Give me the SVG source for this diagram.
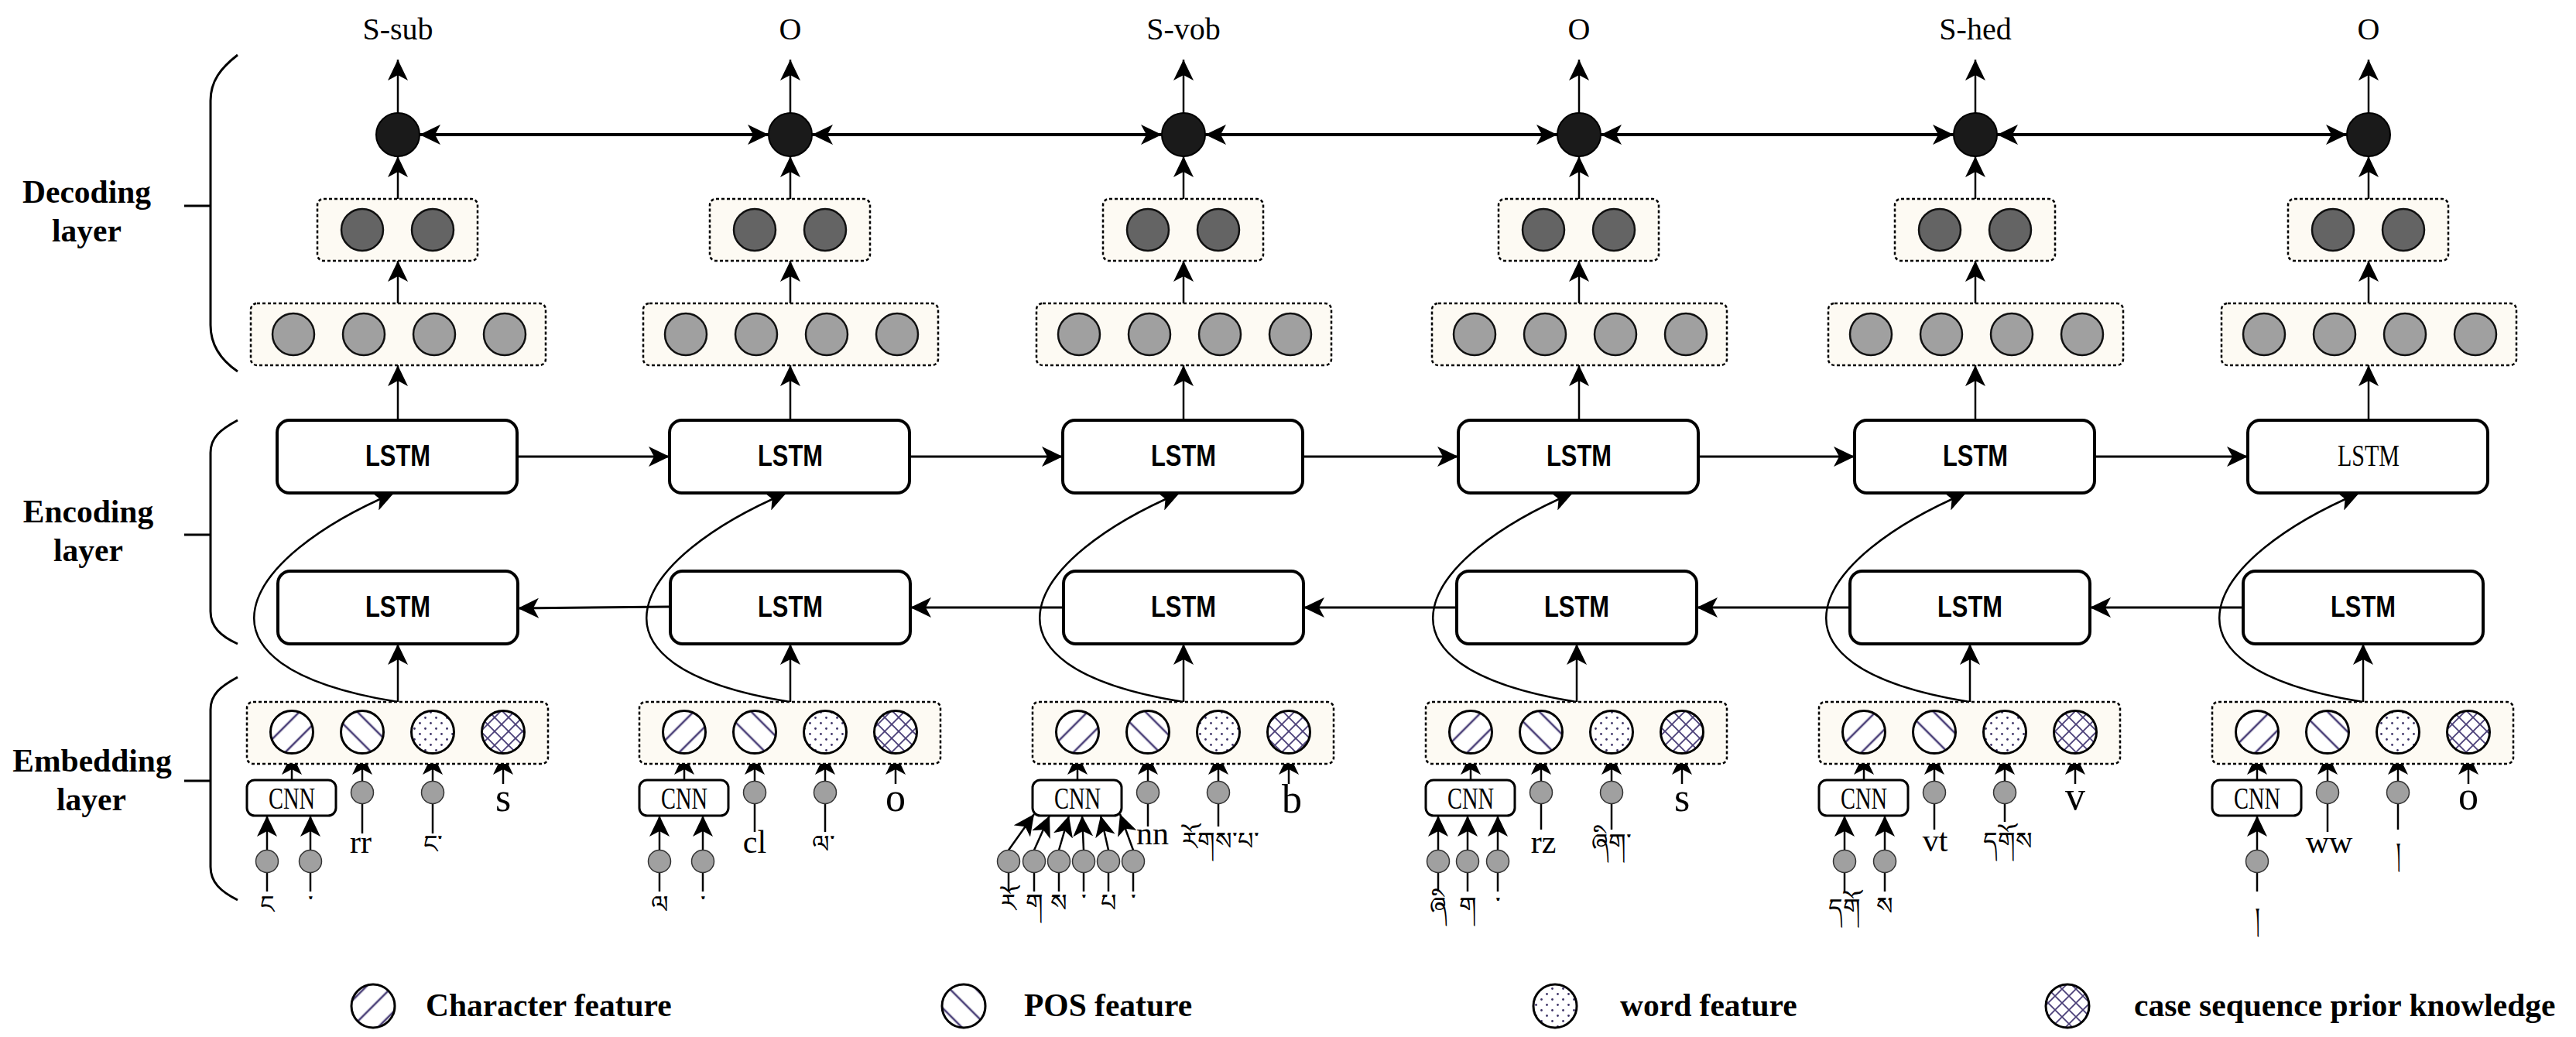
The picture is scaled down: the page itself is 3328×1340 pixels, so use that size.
<svg xmlns="http://www.w3.org/2000/svg" width="3328" height="1340" viewBox="0 0 3328 1340">
<style>
.lbl{font-family:"Liberation Serif","Times New Roman",serif;font-size:40px;text-anchor:middle}
.layer{font-family:"Liberation Serif","Times New Roman",serif;font-weight:bold;font-size:41.5px;text-anchor:middle}
.leg{font-family:"Liberation Serif","Times New Roman",serif;font-weight:bold;font-size:41.5px}
.lstm{font-family:"Liberation Sans Narrow","Liberation Sans",Arial,sans-serif;font-weight:bold;font-size:38px;text-anchor:middle}
.lstm2{font-family:"Liberation Serif","Times New Roman",serif;font-size:40px;text-anchor:middle}
.cnn{font-family:"Liberation Serif","Times New Roman",serif;font-size:40px;text-anchor:middle}
.pos{font-family:"Liberation Serif","Times New Roman",serif;font-size:42px;text-anchor:middle}
.case{font-family:"Liberation Serif","Times New Roman",serif;font-size:52px;text-anchor:middle}
.tib{font-family:"DejaVu Sans","Noto Sans",sans-serif;font-size:32px;text-anchor:middle}
.dbox{fill:#fdfaf3;stroke:#000;stroke-width:2.5;stroke-dasharray:4 3}
.lbox{fill:#fff;stroke:#000;stroke-width:4}
.cbox{fill:#fff;stroke:#000;stroke-width:3}
.blk{fill:#1a1a1a;stroke:#000;stroke-width:2}
.dk{fill:#646464;stroke:#111;stroke-width:2.5}
.gr{fill:#a0a0a0;stroke:#111;stroke-width:2.5}
.sm{fill:#a0a0a0;stroke:#333;stroke-width:1.5}
.fc{stroke:#000;stroke-width:3}
.ar{fill:none;stroke:#000;stroke-width:2.5;marker-end:url(#ah)}
.ar3{fill:none;stroke:#000;stroke-width:3;marker-end:url(#ah)}
.ar4{fill:none;stroke:#000;stroke-width:4;marker-start:url(#ah);marker-end:url(#ah)}
.ln{fill:none;stroke:#000;stroke-width:2.5}
.brace{fill:none;stroke:#000;stroke-width:3}
</style>
<defs>
<marker id="ah" markerUnits="userSpaceOnUse" markerWidth="27" markerHeight="26" viewBox="0 0 27 26" refX="27" refY="13" orient="auto-start-reverse"><path d="M0,0 L27,13 L0,26 L7,13 Z" fill="#000"/></marker>
<pattern id="pChar" width="24" height="24" patternUnits="userSpaceOnUse" patternTransform="rotate(45)"><rect width="24" height="24" fill="#fff"/><line x1="12" y1="0" x2="12" y2="24" stroke="#4a3f78" stroke-width="2.6"/></pattern>
<pattern id="pPos" width="24" height="24" patternUnits="userSpaceOnUse" patternTransform="rotate(-45)"><rect width="24" height="24" fill="#fff"/><line x1="12" y1="0" x2="12" y2="24" stroke="#4a3f78" stroke-width="2.6"/></pattern>
<pattern id="pWord" width="14" height="14" patternUnits="userSpaceOnUse"><rect width="14" height="14" fill="#fff"/><circle cx="3.5" cy="3.5" r="1.4" fill="#3d3366"/><circle cx="10.5" cy="10.5" r="1.4" fill="#3d3366"/></pattern>
<pattern id="pCase" width="18" height="18" patternUnits="userSpaceOnUse"><rect width="18" height="18" fill="#fff"/><path d="M0,0 L18,18 M18,0 L0,18" stroke="#4a3f78" stroke-width="1.8"/></pattern>
</defs>

<g id="braces">
<path class="brace" d="M307,71 C285,88 272,105 272,130 L272,420 C272,445 285,465 307,480"/>
<line class="brace" x1="238" y1="266" x2="272" y2="266"/>
<path class="brace" d="M307,543 C285,555 272,565 272,585 L272,790 C272,810 285,822 307,832"/>
<line class="brace" x1="238" y1="691" x2="272" y2="691"/>
<path class="brace" d="M307,875 C285,887 272,897 272,917 L272,1120 C272,1140 285,1152 307,1163"/>
<line class="brace" x1="238" y1="1009" x2="272" y2="1009"/>
</g>
<g id="layer-labels">
<text class="layer" x="112" y="262">Decoding</text><text class="layer" x="112" y="312">layer</text>
<text class="layer" x="114" y="675">Encoding</text><text class="layer" x="114" y="725">layer</text>
<text class="layer" x="119" y="997">Embedding</text><text class="layer" x="118" y="1047">layer</text>
</g>

<g id="connectors">
<!-- output arrows -->
<line class="ar" x1="514" y1="147" x2="514" y2="77"/><line class="ar" x1="1021" y1="147" x2="1021" y2="77"/><line class="ar" x1="1529" y1="147" x2="1529" y2="77"/><line class="ar" x1="2040" y1="147" x2="2040" y2="77"/><line class="ar" x1="2552" y1="147" x2="2552" y2="77"/><line class="ar" x1="3060" y1="147" x2="3060" y2="77"/>
<!-- CRF links -->
<line class="ar4" x1="542" y1="174" x2="993" y2="174"/><line class="ar4" x1="1049" y1="174" x2="1501" y2="174"/><line class="ar4" x1="1557" y1="174" x2="2012" y2="174"/><line class="ar4" x1="2068" y1="174" x2="2524" y2="174"/><line class="ar4" x1="2580" y1="174" x2="3032" y2="174"/>
<!-- 2-box to black -->
<line class="ar" x1="514" y1="257" x2="514" y2="202"/><line class="ar" x1="1021" y1="257" x2="1021" y2="202"/><line class="ar" x1="1529" y1="257" x2="1529" y2="202"/><line class="ar" x1="2040" y1="257" x2="2040" y2="202"/><line class="ar" x1="2552" y1="257" x2="2552" y2="202"/><line class="ar" x1="3060" y1="257" x2="3060" y2="202"/>
<!-- 4-box to 2-box -->
<line class="ar" x1="514" y1="392" x2="514" y2="337"/><line class="ar" x1="1021" y1="392" x2="1021" y2="337"/><line class="ar" x1="1529" y1="392" x2="1529" y2="337"/><line class="ar" x1="2040" y1="392" x2="2040" y2="337"/><line class="ar" x1="2552" y1="392" x2="2552" y2="337"/><line class="ar" x1="3060" y1="392" x2="3060" y2="337"/>
<!-- LSTM to 4-box -->
<line class="ar" x1="514" y1="543" x2="514" y2="472"/><line class="ar" x1="1021" y1="543" x2="1021" y2="472"/><line class="ar" x1="1529" y1="543" x2="1529" y2="472"/><line class="ar" x1="2040" y1="543" x2="2040" y2="472"/><line class="ar" x1="2552" y1="543" x2="2552" y2="472"/><line class="ar" x1="3060" y1="543" x2="3060" y2="472"/>
<!-- forward LSTM -->
<line class="ar3" x1="668" y1="590" x2="865" y2="590"/><line class="ar3" x1="1175" y1="590" x2="1373" y2="590"/><line class="ar3" x1="1683" y1="590" x2="1884" y2="590"/><line class="ar3" x1="2194" y1="590" x2="2396" y2="590"/><line class="ar3" x1="2706" y1="590" x2="2904" y2="590"/>
<!-- backward LSTM -->
<line class="ar3" x1="866" y1="784" x2="669" y2="786"/><line class="ar3" x1="1374" y1="785" x2="1176" y2="785"/><line class="ar3" x1="1882" y1="785" x2="1684" y2="785"/><line class="ar3" x1="2390" y1="785" x2="2192" y2="785"/><line class="ar3" x1="2898" y1="785" x2="2700" y2="785"/>
<!-- skip curves -->
<path class="ar" d="M514,907 C224,860 314,720 509,637"/>
<path class="ar" d="M1021,907 C731,860 821,720 1016,637"/>
<path class="ar" d="M1529,907 C1239,860 1329,720 1524,637"/>
<path class="ar" d="M2037,907 C1747,860 1837,720 2032,637"/>
<path class="ar" d="M2545,907 C2255,860 2345,720 2540,637"/>
<path class="ar" d="M3053,907 C2763,860 2853,720 3048,637"/>
<!-- embedding to backward LSTM -->
<line class="ar" x1="514" y1="907" x2="514" y2="832"/><line class="ar" x1="1021" y1="907" x2="1021" y2="832"/><line class="ar" x1="1529" y1="907" x2="1529" y2="832"/><line class="ar" x1="2037" y1="907" x2="2037" y2="832"/><line class="ar" x1="2545" y1="907" x2="2545" y2="832"/><line class="ar" x1="3053" y1="907" x2="3053" y2="832"/>
<!-- CNN to char feature -->
<line class="ar" x1="377" y1="1008" x2="377" y2="974"/><line class="ar" x1="884" y1="1008" x2="884" y2="974"/><line class="ar" x1="1392" y1="1008" x2="1392" y2="974"/><line class="ar" x1="1900" y1="1008" x2="1900" y2="974"/><line class="ar" x1="2408" y1="1008" x2="2408" y2="974"/><line class="ar" x1="2916" y1="1008" x2="2916" y2="974"/>
<!-- POS inputs -->
<line class="ar" x1="468" y1="1009.5" x2="468" y2="974"/><line class="ln" x1="468" y1="1038.5" x2="468" y2="1077"/>
<line class="ar" x1="975" y1="1009.5" x2="975" y2="974"/><line class="ln" x1="975" y1="1038.5" x2="975" y2="1075"/>
<line class="ar" x1="1483" y1="1009.5" x2="1483" y2="974"/><line class="ln" x1="1483" y1="1038.5" x2="1483" y2="1068"/>
<line class="ar" x1="1991" y1="1009.5" x2="1991" y2="974"/><line class="ln" x1="1991" y1="1038.5" x2="1991" y2="1072"/>
<line class="ar" x1="2499" y1="1009.5" x2="2499" y2="974"/><line class="ln" x1="2499" y1="1038.5" x2="2499" y2="1072"/>
<line class="ar" x1="3007" y1="1009.5" x2="3007" y2="974"/><line class="ln" x1="3007" y1="1038.5" x2="3007" y2="1075"/>
<!-- word inputs -->
<line class="ar" x1="559" y1="1009.5" x2="559" y2="974"/><line class="ln" x1="559" y1="1038.5" x2="559" y2="1077"/>
<line class="ar" x1="1066" y1="1009.5" x2="1066" y2="974"/><line class="ln" x1="1066" y1="1038.5" x2="1066" y2="1075"/>
<line class="ar" x1="1574" y1="1009.5" x2="1574" y2="974"/><line class="ln" x1="1574" y1="1038.5" x2="1574" y2="1068"/>
<line class="ar" x1="2082" y1="1009.5" x2="2082" y2="974"/><line class="ln" x1="2082" y1="1038.5" x2="2082" y2="1072"/>
<line class="ar" x1="2590" y1="1009.5" x2="2590" y2="974"/><line class="ln" x1="2590" y1="1038.5" x2="2590" y2="1062"/>
<line class="ar" x1="3098" y1="1009.5" x2="3098" y2="974"/><line class="ln" x1="3098" y1="1038.5" x2="3098" y2="1072"/>
<!-- case inputs -->
<line class="ar" x1="650" y1="1013" x2="650" y2="974"/><line class="ar" x1="1157" y1="1013" x2="1157" y2="974"/><line class="ar" x1="1665" y1="1013" x2="1665" y2="974"/><line class="ar" x1="2173" y1="1013" x2="2173" y2="974"/><line class="ar" x1="2681" y1="1013" x2="2681" y2="974"/><line class="ar" x1="3189" y1="1013" x2="3189" y2="974"/>
<!-- char inputs to CNN -->
<line class="ar" x1="345" y1="1098.5" x2="345" y2="1054"/><line class="ar" x1="401" y1="1098.5" x2="401" y2="1054"/>
<line class="ar" x1="852" y1="1098.5" x2="852" y2="1054"/><line class="ar" x1="908" y1="1098.5" x2="908" y2="1054"/>
<line class="ar" x1="1303" y1="1098.5" x2="1336" y2="1052"/><line class="ar" x1="1336" y1="1098.5" x2="1356" y2="1054"/><line class="ar" x1="1368" y1="1098.5" x2="1381" y2="1054"/><line class="ar" x1="1400" y1="1098.5" x2="1398" y2="1054"/><line class="ar" x1="1432" y1="1098.5" x2="1422" y2="1054"/><line class="ar" x1="1464" y1="1098.5" x2="1447" y2="1052"/>
<line class="ar" x1="1858" y1="1098.5" x2="1858" y2="1054"/><line class="ar" x1="1896" y1="1098.5" x2="1896" y2="1054"/><line class="ar" x1="1935" y1="1098.5" x2="1935" y2="1054"/>
<line class="ar" x1="2383" y1="1098.5" x2="2383" y2="1054"/><line class="ar" x1="2435" y1="1098.5" x2="2435" y2="1054"/>
<line class="ar" x1="2916" y1="1098.5" x2="2916" y2="1054"/>
<!-- char input stems -->
<line class="ln" x1="345" y1="1127.5" x2="345" y2="1152"/><line class="ln" x1="401" y1="1127.5" x2="401" y2="1152"/>
<line class="ln" x1="852" y1="1127.5" x2="852" y2="1152"/><line class="ln" x1="908" y1="1127.5" x2="908" y2="1152"/>
<line class="ln" x1="1303" y1="1127.5" x2="1303" y2="1152"/><line class="ln" x1="1336" y1="1127.5" x2="1336" y2="1152"/><line class="ln" x1="1368" y1="1127.5" x2="1368" y2="1152"/><line class="ln" x1="1400" y1="1127.5" x2="1400" y2="1152"/><line class="ln" x1="1432" y1="1127.5" x2="1432" y2="1152"/><line class="ln" x1="1464" y1="1127.5" x2="1464" y2="1152"/>
<line class="ln" x1="1858" y1="1127.5" x2="1858" y2="1152"/><line class="ln" x1="1896" y1="1127.5" x2="1896" y2="1152"/><line class="ln" x1="1935" y1="1127.5" x2="1935" y2="1152"/>
<line class="ln" x1="2383" y1="1127.5" x2="2383" y2="1152"/><line class="ln" x1="2435" y1="1127.5" x2="2435" y2="1152"/>
<line class="ln" x1="2916" y1="1127.5" x2="2916" y2="1152"/>
</g>

<!-- Column 1 -->
<g id="out-1"><text class="lbl" x="514" y="51">S-sub</text><circle class="blk" cx="514" cy="174" r="28"/></g>
<g id="dec2-1"><rect class="dbox" x="410" y="257" width="207" height="80" rx="8"/><circle class="dk" cx="468" cy="297" r="27"/><circle class="dk" cx="559" cy="297" r="27"/></g>
<g id="dec4-1"><rect class="dbox" x="324" y="392" width="381" height="80" rx="8"/><circle class="gr" cx="379" cy="432" r="27"/><circle class="gr" cx="470" cy="432" r="27"/><circle class="gr" cx="561" cy="432" r="27"/><circle class="gr" cx="652" cy="432" r="27"/></g>
<g id="lstmf-1"><rect class="lbox" x="358" y="543" width="310" height="94" rx="16"/><text class="lstm" x="514" y="602" textLength="84" lengthAdjust="spacingAndGlyphs">LSTM</text></g>
<g id="lstmb-1"><rect class="lbox" x="359" y="738" width="310" height="94" rx="16"/><text class="lstm" x="514" y="797" textLength="84" lengthAdjust="spacingAndGlyphs">LSTM</text></g>
<g id="emb-1"><rect class="dbox" x="319" y="907" width="389" height="80" rx="8"/><circle class="fc" fill="url(#pChar)" cx="377" cy="946" r="27.5"/><circle class="fc" fill="url(#pPos)" cx="468" cy="946" r="27.5"/><circle class="fc" fill="url(#pWord)" cx="559" cy="946" r="27.5"/><circle class="fc" fill="url(#pCase)" cx="650" cy="946" r="27.5"/></g>
<g id="cnn-1"><rect class="cbox" x="319" y="1008" width="115" height="46" rx="10"/><text class="cnn" x="377" y="1045" textLength="60" lengthAdjust="spacingAndGlyphs">CNN</text></g>
<g id="in-1"><circle class="sm" cx="468" cy="1024" r="14.5"/><text class="pos" x="466" y="1102">rr</text><circle class="sm" cx="559" cy="1024" r="14.5"/><text class="tib" x="559" y="1102">ང་</text><text class="case" x="650" y="1048">s</text>
<circle class="sm" cx="345" cy="1113" r="14.5"/><circle class="sm" cx="401" cy="1113" r="14.5"/><text class="tib" x="345" y="1180">ང</text><text class="tib" x="401" y="1180">་</text></g>

<!-- Column 2 -->
<g id="out-2"><text class="lbl" x="1021" y="51">O</text><circle class="blk" cx="1021" cy="174" r="28"/></g>
<g id="dec2-2"><rect class="dbox" x="917" y="257" width="207" height="80" rx="8"/><circle class="dk" cx="975" cy="297" r="27"/><circle class="dk" cx="1066" cy="297" r="27"/></g>
<g id="dec4-2"><rect class="dbox" x="831" y="392" width="381" height="80" rx="8"/><circle class="gr" cx="886" cy="432" r="27"/><circle class="gr" cx="977" cy="432" r="27"/><circle class="gr" cx="1068" cy="432" r="27"/><circle class="gr" cx="1159" cy="432" r="27"/></g>
<g id="lstmf-2"><rect class="lbox" x="865" y="543" width="310" height="94" rx="16"/><text class="lstm" x="1021" y="602" textLength="84" lengthAdjust="spacingAndGlyphs">LSTM</text></g>
<g id="lstmb-2"><rect class="lbox" x="866" y="738" width="310" height="94" rx="16"/><text class="lstm" x="1021" y="797" textLength="84" lengthAdjust="spacingAndGlyphs">LSTM</text></g>
<g id="emb-2"><rect class="dbox" x="826" y="907" width="389" height="80" rx="8"/><circle class="fc" fill="url(#pChar)" cx="884" cy="946" r="27.5"/><circle class="fc" fill="url(#pPos)" cx="975" cy="946" r="27.5"/><circle class="fc" fill="url(#pWord)" cx="1066" cy="946" r="27.5"/><circle class="fc" fill="url(#pCase)" cx="1157" cy="946" r="27.5"/></g>
<g id="cnn-2"><rect class="cbox" x="826" y="1008" width="115" height="46" rx="10"/><text class="cnn" x="884" y="1045" textLength="60" lengthAdjust="spacingAndGlyphs">CNN</text></g>
<g id="in-2"><circle class="sm" cx="975" cy="1024" r="14.5"/><text class="pos" x="975" y="1102">cl</text><circle class="sm" cx="1066" cy="1024" r="14.5"/><text class="tib" x="1064" y="1102">ལ་</text><text class="case" x="1157" y="1048">o</text>
<circle class="sm" cx="852" cy="1113" r="14.5"/><circle class="sm" cx="908" cy="1113" r="14.5"/><text class="tib" x="852" y="1180">ལ</text><text class="tib" x="908" y="1180">་</text></g>

<!-- Column 3 -->
<g id="out-3"><text class="lbl" x="1529" y="51">S-vob</text><circle class="blk" cx="1529" cy="174" r="28"/></g>
<g id="dec2-3"><rect class="dbox" x="1425" y="257" width="207" height="80" rx="8"/><circle class="dk" cx="1483" cy="297" r="27"/><circle class="dk" cx="1574" cy="297" r="27"/></g>
<g id="dec4-3"><rect class="dbox" x="1339" y="392" width="381" height="80" rx="8"/><circle class="gr" cx="1394" cy="432" r="27"/><circle class="gr" cx="1485" cy="432" r="27"/><circle class="gr" cx="1576" cy="432" r="27"/><circle class="gr" cx="1667" cy="432" r="27"/></g>
<g id="lstmf-3"><rect class="lbox" x="1373" y="543" width="310" height="94" rx="16"/><text class="lstm" x="1529" y="602" textLength="84" lengthAdjust="spacingAndGlyphs">LSTM</text></g>
<g id="lstmb-3"><rect class="lbox" x="1374" y="738" width="310" height="94" rx="16"/><text class="lstm" x="1529" y="797" textLength="84" lengthAdjust="spacingAndGlyphs">LSTM</text></g>
<g id="emb-3"><rect class="dbox" x="1334" y="907" width="389" height="80" rx="8"/><circle class="fc" fill="url(#pChar)" cx="1392" cy="946" r="27.5"/><circle class="fc" fill="url(#pPos)" cx="1483" cy="946" r="27.5"/><circle class="fc" fill="url(#pWord)" cx="1574" cy="946" r="27.5"/><circle class="fc" fill="url(#pCase)" cx="1665" cy="946" r="27.5"/></g>
<g id="cnn-3"><rect class="cbox" x="1334" y="1008" width="115" height="46" rx="10"/><text class="cnn" x="1392" y="1045" textLength="60" lengthAdjust="spacingAndGlyphs">CNN</text></g>
<g id="in-3"><circle class="sm" cx="1483" cy="1024" r="14.5"/><text class="pos" x="1489" y="1091">nn</text><circle class="sm" cx="1574" cy="1024" r="14.5"/><text class="tib" x="1577" y="1098">རོགས་པ་</text><text class="case" x="1669" y="1050">b</text>
<circle class="sm" cx="1303" cy="1113" r="14.5"/><circle class="sm" cx="1336" cy="1113" r="14.5"/><circle class="sm" cx="1368" cy="1113" r="14.5"/><circle class="sm" cx="1400" cy="1113" r="14.5"/><circle class="sm" cx="1432" cy="1113" r="14.5"/><circle class="sm" cx="1464" cy="1113" r="14.5"/>
<text class="tib" x="1303" y="1178">རོ</text><text class="tib" x="1336" y="1178">ག</text><text class="tib" x="1368" y="1178">ས</text><text class="tib" x="1400" y="1178">་</text><text class="tib" x="1432" y="1178">པ</text><text class="tib" x="1464" y="1178">་</text></g>

<!-- Column 4 -->
<g id="out-4"><text class="lbl" x="2040" y="51">O</text><circle class="blk" cx="2040" cy="174" r="28"/></g>
<g id="dec2-4"><rect class="dbox" x="1936" y="257" width="207" height="80" rx="8"/><circle class="dk" cx="1994" cy="297" r="27"/><circle class="dk" cx="2085" cy="297" r="27"/></g>
<g id="dec4-4"><rect class="dbox" x="1850" y="392" width="381" height="80" rx="8"/><circle class="gr" cx="1905" cy="432" r="27"/><circle class="gr" cx="1996" cy="432" r="27"/><circle class="gr" cx="2087" cy="432" r="27"/><circle class="gr" cx="2178" cy="432" r="27"/></g>
<g id="lstmf-4"><rect class="lbox" x="1884" y="543" width="310" height="94" rx="16"/><text class="lstm" x="2040" y="602" textLength="84" lengthAdjust="spacingAndGlyphs">LSTM</text></g>
<g id="lstmb-4"><rect class="lbox" x="1882" y="738" width="310" height="94" rx="16"/><text class="lstm" x="2037" y="797" textLength="84" lengthAdjust="spacingAndGlyphs">LSTM</text></g>
<g id="emb-4"><rect class="dbox" x="1842" y="907" width="389" height="80" rx="8"/><circle class="fc" fill="url(#pChar)" cx="1900" cy="946" r="27.5"/><circle class="fc" fill="url(#pPos)" cx="1991" cy="946" r="27.5"/><circle class="fc" fill="url(#pWord)" cx="2082" cy="946" r="27.5"/><circle class="fc" fill="url(#pCase)" cx="2173" cy="946" r="27.5"/></g>
<g id="cnn-4"><rect class="cbox" x="1842" y="1008" width="115" height="46" rx="10"/><text class="cnn" x="1900" y="1045" textLength="60" lengthAdjust="spacingAndGlyphs">CNN</text></g>
<g id="in-4"><circle class="sm" cx="1991" cy="1024" r="14.5"/><text class="pos" x="1994" y="1102">rz</text><circle class="sm" cx="2082" cy="1024" r="14.5"/><text class="tib" x="2082" y="1100">ཞིག་</text><text class="case" x="2173" y="1048">s</text>
<circle class="sm" cx="1858" cy="1113" r="14.5"/><circle class="sm" cx="1896" cy="1113" r="14.5"/><circle class="sm" cx="1935" cy="1113" r="14.5"/>
<text class="tib" x="1858" y="1182">ཞི</text><text class="tib" x="1896" y="1182">ག</text><text class="tib" x="1935" y="1182">་</text></g>

<!-- Column 5 -->
<g id="out-5"><text class="lbl" x="2552" y="51">S-hed</text><circle class="blk" cx="2552" cy="174" r="28"/></g>
<g id="dec2-5"><rect class="dbox" x="2448" y="257" width="207" height="80" rx="8"/><circle class="dk" cx="2506" cy="297" r="27"/><circle class="dk" cx="2597" cy="297" r="27"/></g>
<g id="dec4-5"><rect class="dbox" x="2362" y="392" width="381" height="80" rx="8"/><circle class="gr" cx="2417" cy="432" r="27"/><circle class="gr" cx="2508" cy="432" r="27"/><circle class="gr" cx="2599" cy="432" r="27"/><circle class="gr" cx="2690" cy="432" r="27"/></g>
<g id="lstmf-5"><rect class="lbox" x="2396" y="543" width="310" height="94" rx="16"/><text class="lstm" x="2552" y="602" textLength="84" lengthAdjust="spacingAndGlyphs">LSTM</text></g>
<g id="lstmb-5"><rect class="lbox" x="2390" y="738" width="310" height="94" rx="16"/><text class="lstm" x="2545" y="797" textLength="84" lengthAdjust="spacingAndGlyphs">LSTM</text></g>
<g id="emb-5"><rect class="dbox" x="2350" y="907" width="389" height="80" rx="8"/><circle class="fc" fill="url(#pChar)" cx="2408" cy="946" r="27.5"/><circle class="fc" fill="url(#pPos)" cx="2499" cy="946" r="27.5"/><circle class="fc" fill="url(#pWord)" cx="2590" cy="946" r="27.5"/><circle class="fc" fill="url(#pCase)" cx="2681" cy="946" r="27.5"/></g>
<g id="cnn-5"><rect class="cbox" x="2350" y="1008" width="115" height="46" rx="10"/><text class="cnn" x="2408" y="1045" textLength="60" lengthAdjust="spacingAndGlyphs">CNN</text></g>
<g id="in-5"><circle class="sm" cx="2499" cy="1024" r="14.5"/><text class="pos" x="2500" y="1100">vt</text><circle class="sm" cx="2590" cy="1024" r="14.5"/><text class="tib" x="2594" y="1098">དགོས</text><text class="case" x="2681" y="1046">v</text>
<circle class="sm" cx="2383" cy="1113" r="14.5"/><circle class="sm" cx="2435" cy="1113" r="14.5"/>
<text class="tib" x="2383" y="1184">དགོ</text><text class="tib" x="2435" y="1182">ས</text></g>

<!-- Column 6 -->
<g id="out-6"><text class="lbl" x="3060" y="51">O</text><circle class="blk" cx="3060" cy="174" r="28"/></g>
<g id="dec2-6"><rect class="dbox" x="2956" y="257" width="207" height="80" rx="8"/><circle class="dk" cx="3014" cy="297" r="27"/><circle class="dk" cx="3105" cy="297" r="27"/></g>
<g id="dec4-6"><rect class="dbox" x="2870" y="392" width="381" height="80" rx="8"/><circle class="gr" cx="2925" cy="432" r="27"/><circle class="gr" cx="3016" cy="432" r="27"/><circle class="gr" cx="3107" cy="432" r="27"/><circle class="gr" cx="3198" cy="432" r="27"/></g>
<g id="lstmf-6"><rect class="lbox" x="2904" y="543" width="310" height="94" rx="16"/><text class="lstm2" x="3060" y="602" textLength="80" lengthAdjust="spacingAndGlyphs">LSTM</text></g>
<g id="lstmb-6"><rect class="lbox" x="2898" y="738" width="310" height="94" rx="16"/><text class="lstm" x="3053" y="797" textLength="84" lengthAdjust="spacingAndGlyphs">LSTM</text></g>
<g id="emb-6"><rect class="dbox" x="2858" y="907" width="389" height="80" rx="8"/><circle class="fc" fill="url(#pChar)" cx="2916" cy="946" r="27.5"/><circle class="fc" fill="url(#pPos)" cx="3007" cy="946" r="27.5"/><circle class="fc" fill="url(#pWord)" cx="3098" cy="946" r="27.5"/><circle class="fc" fill="url(#pCase)" cx="3189" cy="946" r="27.5"/></g>
<g id="cnn-6"><rect class="cbox" x="2858" y="1008" width="115" height="46" rx="10"/><text class="cnn" x="2916" y="1045" textLength="60" lengthAdjust="spacingAndGlyphs">CNN</text></g>
<g id="in-6"><circle class="sm" cx="3007" cy="1024" r="14.5"/><text class="pos" x="3009" y="1102">ww</text><circle class="sm" cx="3098" cy="1024" r="14.5"/><text class="tib" x="3098" y="1112">།</text><text class="case" x="3189" y="1046">o</text>
<circle class="sm" cx="2916" cy="1113" r="14.5"/><text class="tib" x="2916" y="1196">།</text></g>

<g id="legend">
<g id="legend-char"><circle class="fc" fill="url(#pChar)" cx="482" cy="1300" r="28"/><text class="leg" x="550" y="1313">Character feature</text></g>
<g id="legend-pos"><circle class="fc" fill="url(#pPos)" cx="1245" cy="1300" r="28"/><text class="leg" x="1323" y="1313">POS feature</text></g>
<g id="legend-word"><circle class="fc" fill="url(#pWord)" cx="2009" cy="1300" r="28"/><text class="leg" x="2093" y="1313">word feature</text></g>
<g id="legend-case"><circle class="fc" fill="url(#pCase)" cx="2671" cy="1300" r="28"/><text class="leg" x="2757" y="1313">case sequence prior knowledge</text></g>
</g>
</svg>
